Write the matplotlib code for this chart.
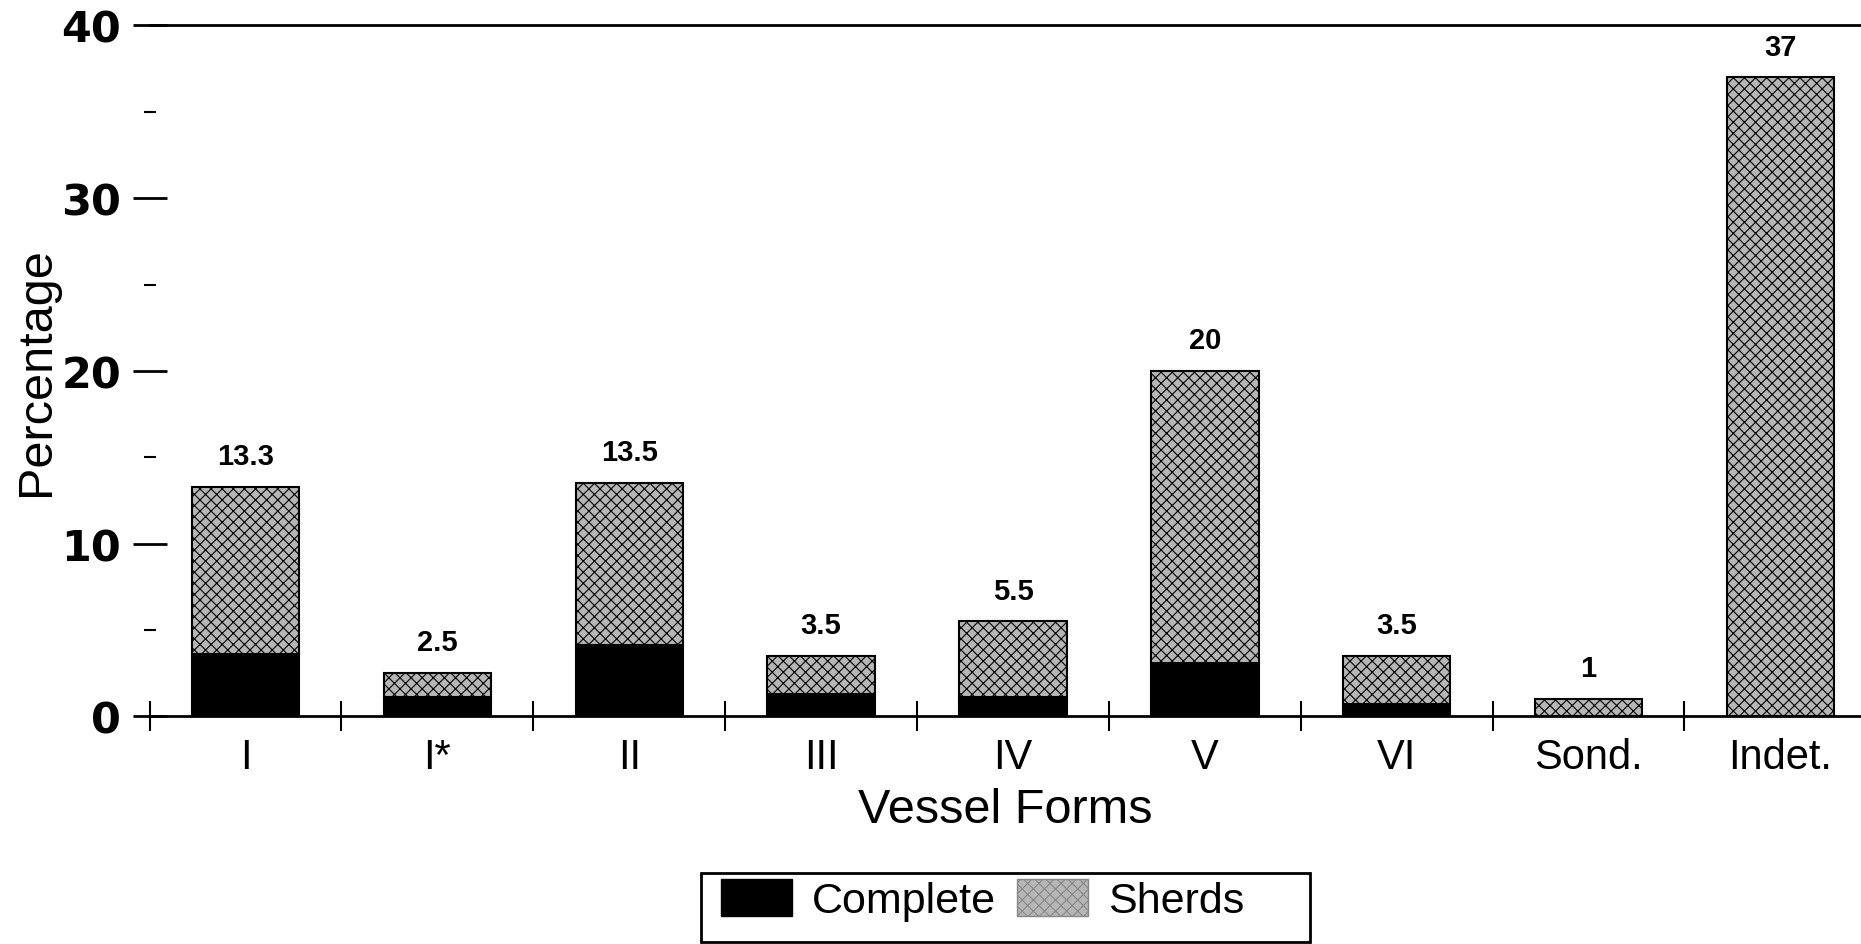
import matplotlib
matplotlib.use("Agg")
import matplotlib.pyplot as plt
from matplotlib.patches import Patch, Rectangle
from matplotlib.ticker import FixedLocator, NullFormatter

categories = ["I", "I*", "II", "III", "IV", "V", "VI", "Sond.", "Indet."]
totals = [13.3, 2.5, 13.5, 3.5, 5.5, 20, 3.5, 1, 37]
complete = [3.6, 1.1, 4.1, 1.3, 1.1, 3.1, 0.7, 0.0, 0.0]
total_labels = ["13.3", "2.5", "13.5", "3.5", "5.5", "20", "3.5", "1", "37"]
y_ticks = [0, 10, 20, 30, 40]
y_tick_labels = ["0", "10", "20", "30", "40"]
sherds = [t - c for t, c in zip(totals, complete)]

plt.rcParams['font.family'] = ['Liberation Sans', 'DejaVu Sans']
plt.rcParams['hatch.color'] = '#505050'
plt.rcParams['hatch.linewidth'] = 0.8

fig = plt.figure(figsize=(18.61, 9.45), dpi=100)
ax = fig.add_axes([0.0804, 0.241, 0.9196, 0.731])

x = list(range(len(categories)))
w = 0.56
ax.bar(x, complete, width=w, color='black', edgecolor='black', linewidth=1.5)
ax.bar(x, sherds, width=w, bottom=complete, color='#b6b6b6', edgecolor='black',
       linewidth=1.5, hatch='xxx')

for xi, t, lab in zip(x, totals, total_labels):
    ax.annotate(lab, (xi, t), xytext=(0, 12), textcoords='offset points',
                ha='center', va='bottom', fontsize=21, fontweight='bold')

ax.set_xlim(-0.5, 8.42)
ax.set_ylim(0, 40)

for s in ['left', 'right']:
    ax.spines[s].set_visible(False)
ax.spines['top'].set_linewidth(2)
ax.spines['bottom'].set_linewidth(2)

ax.set_xticks(x)
ax.set_xticklabels(categories, fontsize=30)
ax.tick_params(axis='x', which='major', length=0, pad=15)
ax.xaxis.set_minor_locator(FixedLocator([k + 0.5 for k in range(-1, 8)]))
ax.tick_params(axis='x', which='minor', direction='inout', length=22, width=1.5)

ax.set_yticks(y_ticks)
ax.set_yticklabels(y_tick_labels, fontsize=31, fontweight='bold', family='DejaVu Sans')
ax.yaxis.set_minor_locator(FixedLocator([5, 15, 25, 35]))
ax.yaxis.set_minor_formatter(NullFormatter())
ax.tick_params(axis='y', which='major', direction='inout', length=24, width=2, pad=8.5)
ax.tick_params(axis='y', which='minor', direction='inout', length=9, width=1.5)

ax.set_xlabel("Vessel Forms", fontsize=35, labelpad=7)
ax.set_ylabel("Percentage", fontsize=35)
ax.yaxis.set_label_coords(-0.053, 0.5)

handles = [Patch(facecolor='black', edgecolor='black', label='Complete'),
           Patch(facecolor='#b6b6b6', edgecolor='#888888', hatch='xxx', label='Sherds')]
leg = fig.legend(handles=handles, loc='lower center', bbox_to_anchor=(0.528, 0.006),
                 ncol=2, fontsize=31, frameon=False,
                 handlelength=1.65, handleheight=0.95, handletextpad=0.45,
                 columnspacing=0.5, borderpad=0.3, borderaxespad=0.1)

# legend box (wider on the right as in the original)
fig.add_artist(Rectangle((701 / 1861, 2 / 945), 609 / 1861, 69 / 945,
                         transform=fig.transFigure, fill=False,
                         edgecolor='black', linewidth=2))

fig.savefig("out.png", dpi=100)
